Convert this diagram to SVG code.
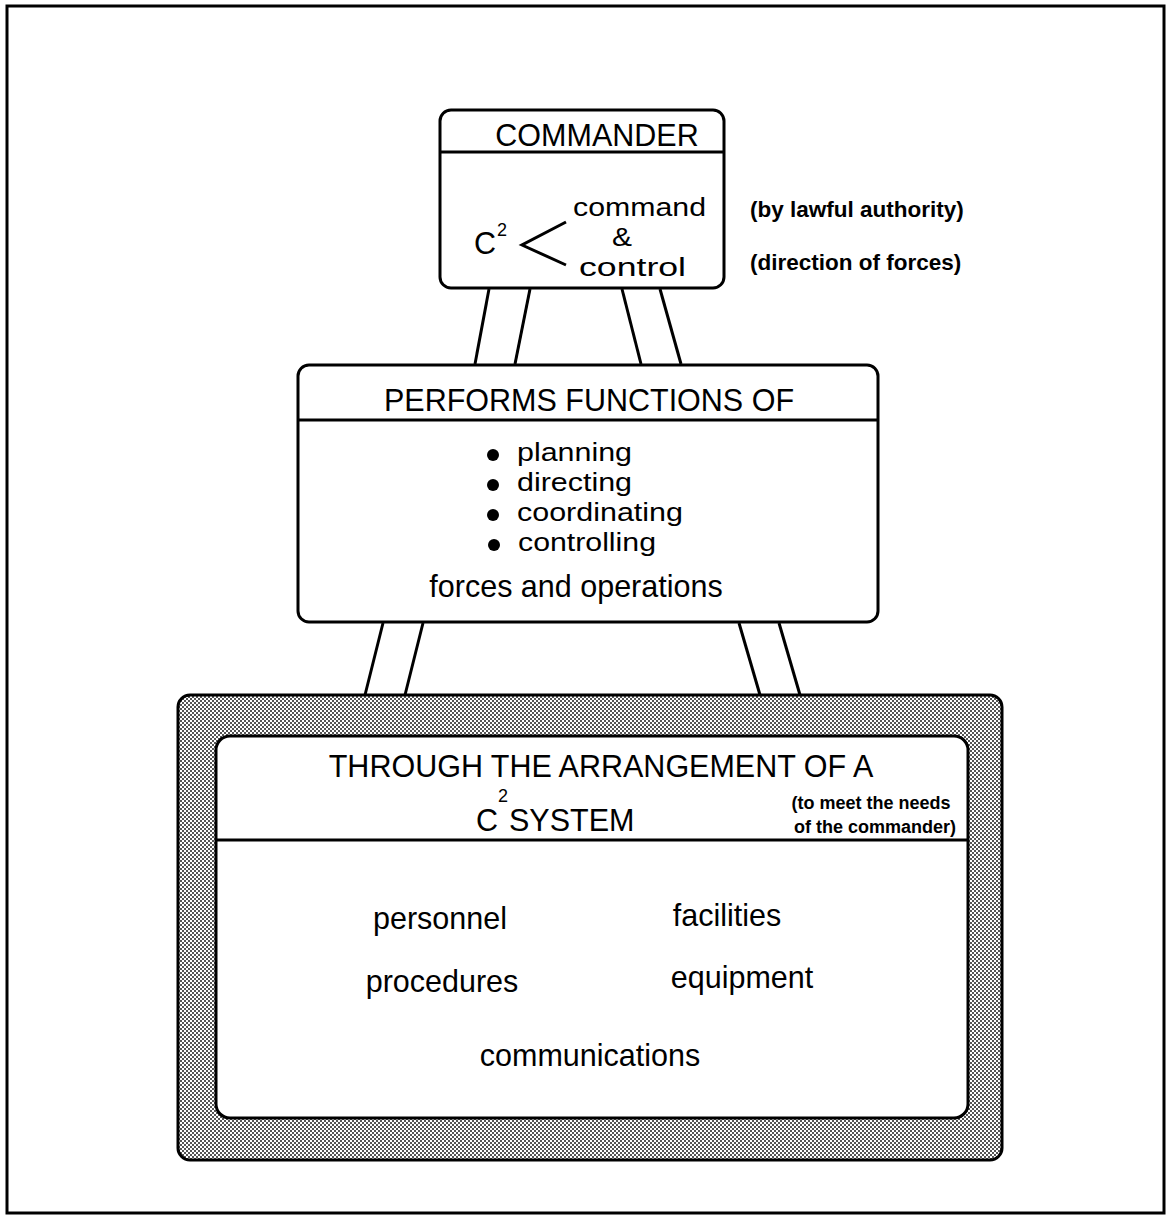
<svg xmlns="http://www.w3.org/2000/svg" width="1168" height="1216" viewBox="0 0 1168 1216">
<defs>
<pattern id="stip" width="4" height="4" patternUnits="userSpaceOnUse">
<rect width="4" height="4" fill="#ffffff"/>
<rect x="0" y="0" width="2" height="2" fill="#555"/>
<rect x="2" y="2" width="2" height="2" fill="#555"/>
</pattern>
</defs>
<style>
text{font-family:"Liberation Sans",Arial,sans-serif;fill:#000}
.t{font-size:30.5px}
.b{font-size:26.5px}
.a{font-size:22.5px;font-weight:bold}
.s{font-size:18px;font-weight:bold}
.sup{font-size:18px}
.box{fill:#fff;stroke:#000;stroke-width:3}
.div{stroke:#000;stroke-width:3}
.ln{stroke:#000;stroke-width:3;fill:none}
</style>
<rect x="7" y="6" width="1157" height="1207" fill="none" stroke="#000" stroke-width="3"/>

<g id="connectors">
<line class="ln" x1="489" y1="289" x2="475" y2="364"/>
<line class="ln" x1="530" y1="289" x2="515" y2="364"/>
<line class="ln" x1="622" y1="289" x2="641" y2="364"/>
<line class="ln" x1="660" y1="289" x2="681" y2="364"/>
<line class="ln" x1="383" y1="623" x2="365" y2="695"/>
<line class="ln" x1="423" y1="623" x2="405" y2="695"/>
<line class="ln" x1="739" y1="623" x2="760" y2="695"/>
<line class="ln" x1="779" y1="623" x2="800" y2="695"/>
</g>

<g id="commander">
<rect class="box" x="440" y="110" width="284" height="178" rx="11"/>
<line class="div" x1="440" y1="152" x2="724" y2="152"/>
<text class="t" x="597" y="146" text-anchor="middle">COMMANDER</text>
<text class="t" x="474" y="254">C</text>
<text class="sup" x="497" y="236">2</text>
<polyline class="ln" points="566,222 522,245 566,265"/>
<text class="b" x="573" y="216" textLength="133" lengthAdjust="spacingAndGlyphs">command</text>
<text class="b" x="612" y="246" textLength="20" lengthAdjust="spacingAndGlyphs">&amp;</text>
<text class="b" x="579" y="276" textLength="107" lengthAdjust="spacingAndGlyphs">control</text>
</g>

<g id="annotations">
<text class="a" x="750" y="217">(by lawful authority)</text>
<text class="a" x="750" y="270">(direction of forces)</text>
</g>

<g id="functions">
<rect class="box" x="298" y="365" width="580" height="257" rx="11"/>
<line class="div" x1="298" y1="420" x2="878" y2="420"/>
<text class="t" x="589" y="411" text-anchor="middle">PERFORMS FUNCTIONS OF</text>
<circle cx="493" cy="455" r="6"/>
<circle cx="493" cy="485" r="6"/>
<circle cx="493" cy="515" r="6"/>
<circle cx="494" cy="545" r="6"/>
<text class="b" x="517" y="461" textLength="115" lengthAdjust="spacingAndGlyphs">planning</text>
<text class="b" x="517" y="491" textLength="115" lengthAdjust="spacingAndGlyphs">directing</text>
<text class="b" x="517" y="521" textLength="166" lengthAdjust="spacingAndGlyphs">coordinating</text>
<text class="b" x="518" y="551" textLength="138" lengthAdjust="spacingAndGlyphs">controlling</text>
<text class="t" x="576" y="597" text-anchor="middle">forces and operations</text>
</g>

<g id="system">
<rect x="178" y="695" width="824" height="465" rx="12" fill="url(#stip)" stroke="#000" stroke-width="3"/>
<rect class="box" x="216" y="736" width="752" height="382" rx="14"/>
<line class="div" x1="216" y1="840" x2="968" y2="840"/>
<text class="t" x="601" y="777" text-anchor="middle">THROUGH THE ARRANGEMENT OF A</text>
<text class="t" x="476" y="831">C</text>
<text class="sup" x="498" y="802">2</text>
<text class="t" x="509" y="831">SYSTEM</text>
<text class="s" text-anchor="middle"><tspan x="871" y="809">(to meet the needs</tspan><tspan x="875" y="833">of the commander)</tspan></text>
<text class="t" x="440" y="929" text-anchor="middle">personnel</text>
<text class="t" x="727" y="926" text-anchor="middle">facilities</text>
<text class="t" x="442" y="992" text-anchor="middle">procedures</text>
<text class="t" x="742" y="988" text-anchor="middle">equipment</text>
<text class="t" x="590" y="1066" text-anchor="middle">communications</text>
</g>
</svg>
